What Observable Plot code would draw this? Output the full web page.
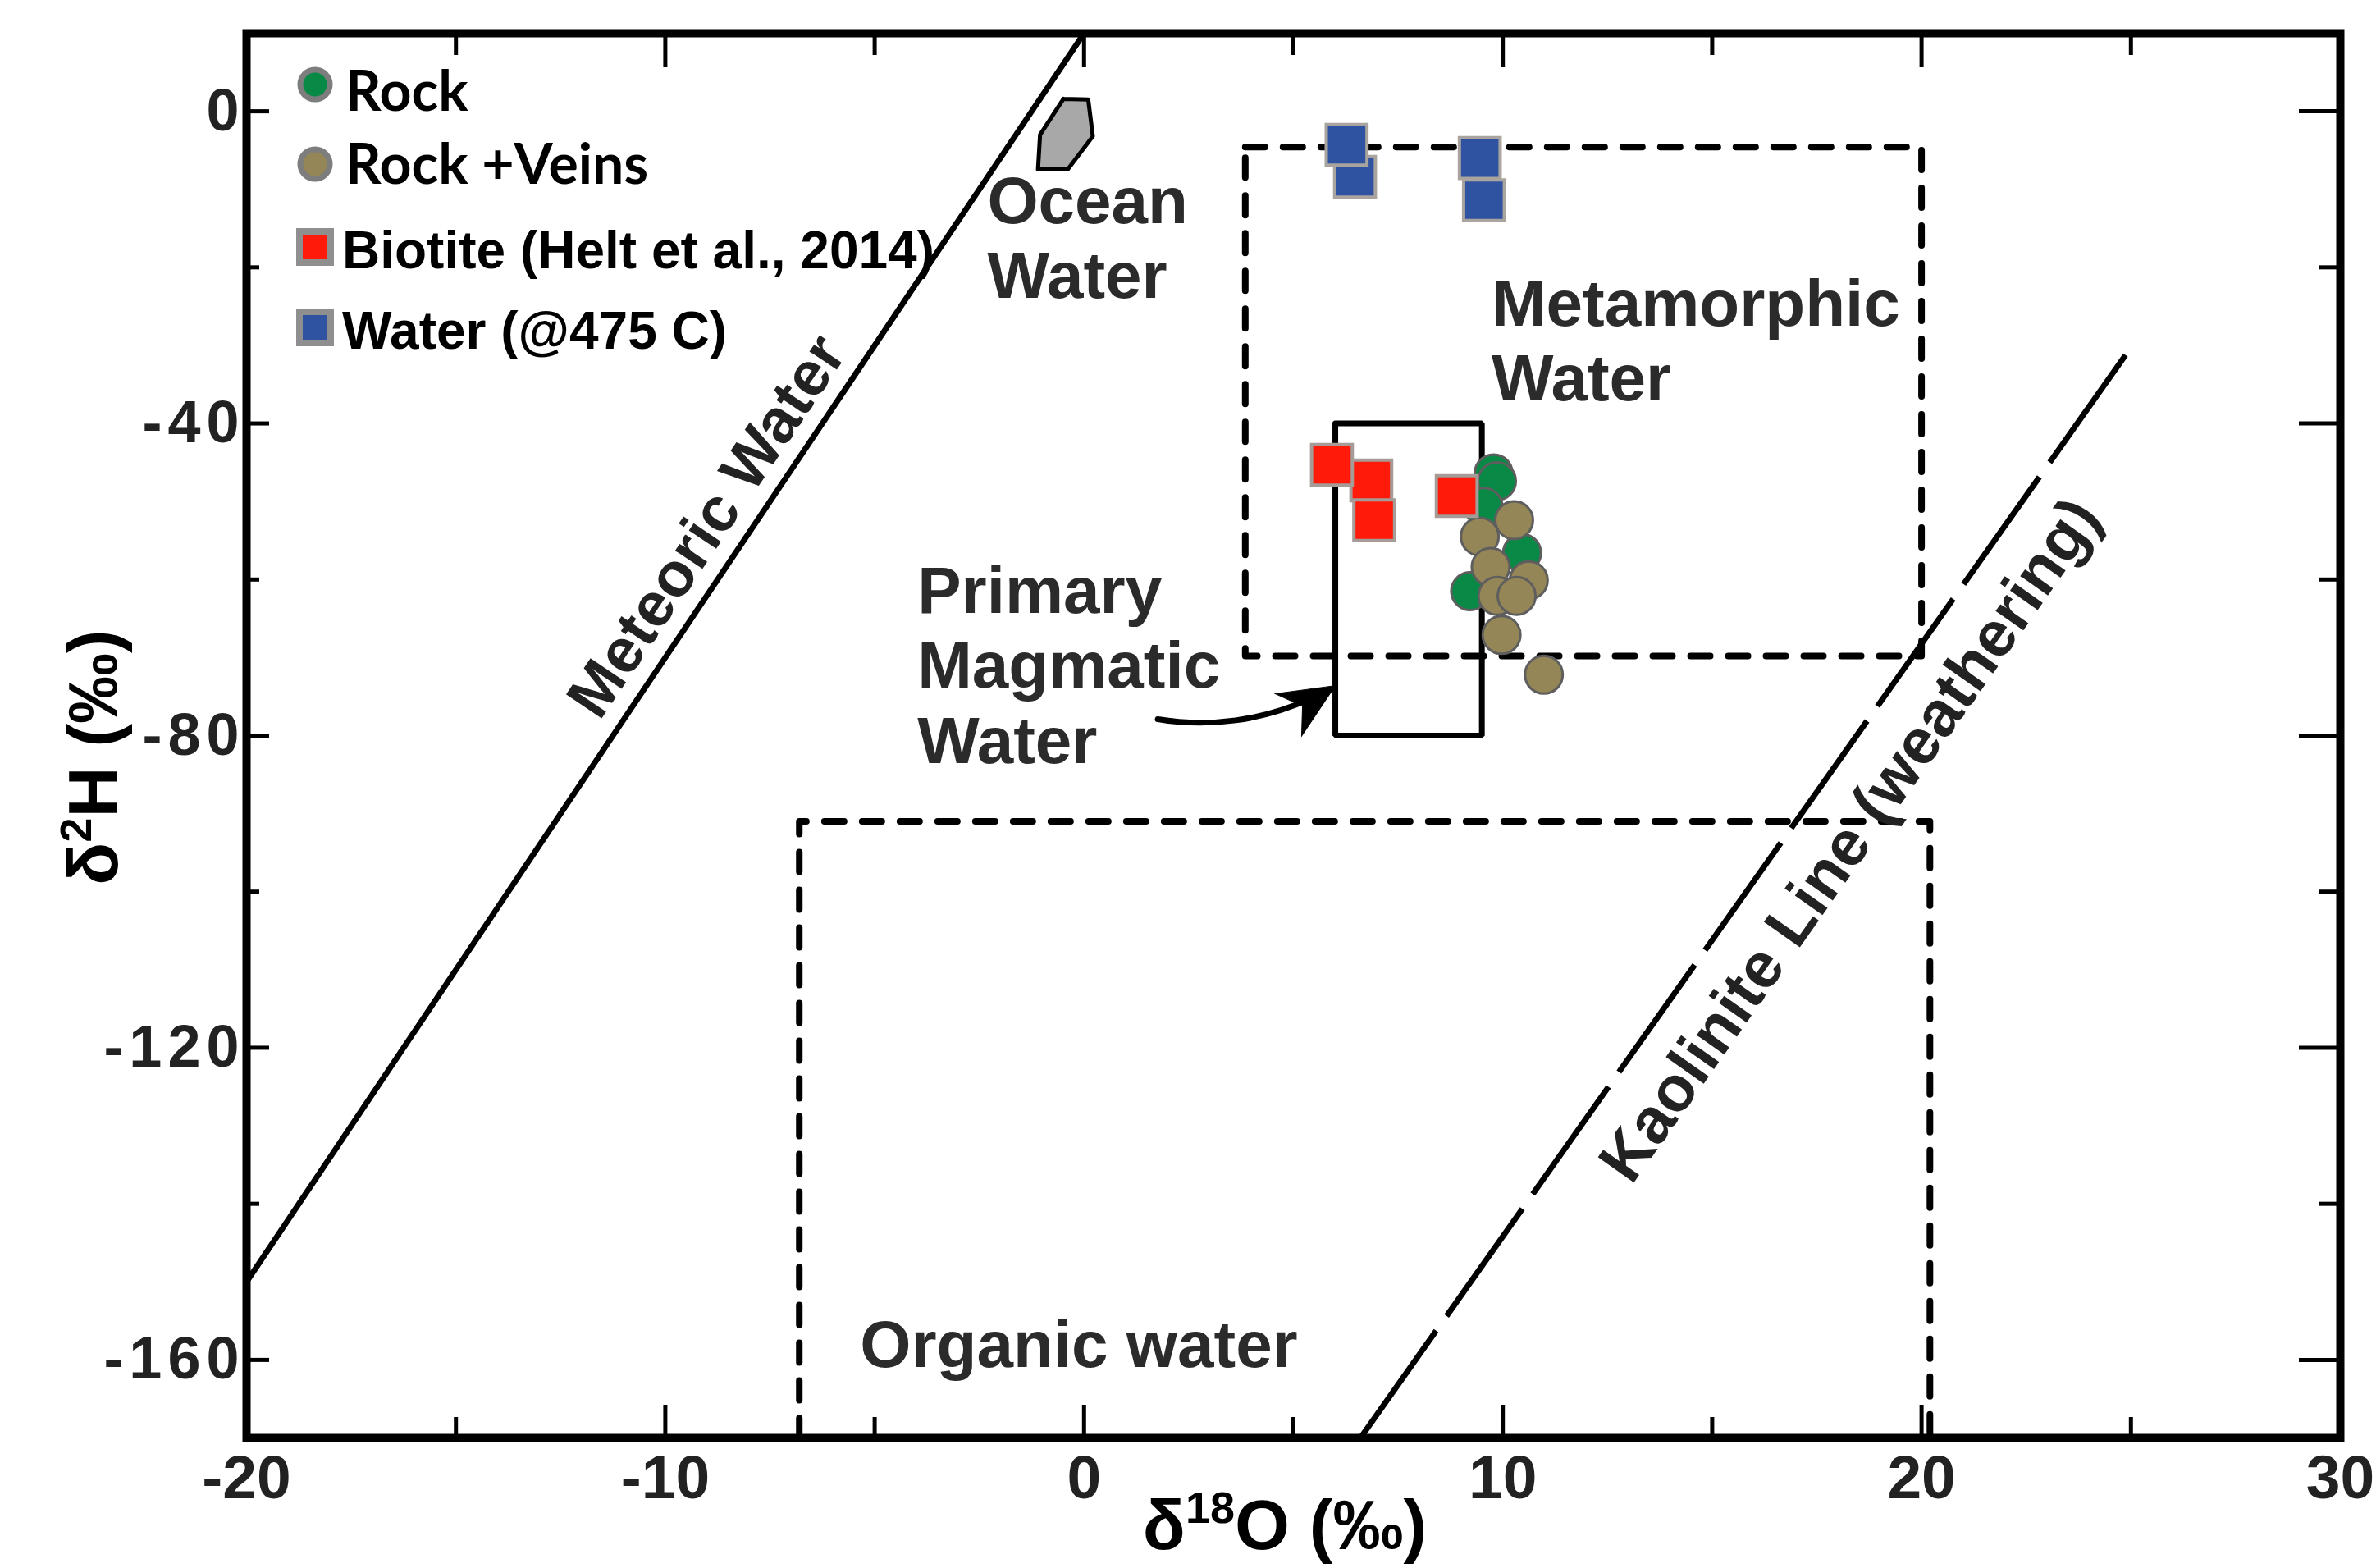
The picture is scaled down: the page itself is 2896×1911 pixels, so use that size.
<!DOCTYPE html>
<html>
<head>
<meta charset="utf-8">
<script src="https://cdn.jsdelivr.net/npm/d3@7"></script>
<script src="https://cdn.jsdelivr.net/npm/@observablehq/plot@0.6"></script>
<style>
  html, body { margin: 0; padding: 0; background: #fff; }
  #wrap { position: relative; width: 2896px; height: 1911px; }
  #legend { position: absolute; left: 0; top: 0; pointer-events: none; }
</style>
</head>
<body>
<div id="wrap"></div>
<script>
// ---------- data ----------
// Rock (green circles)
const rockX = [9.78, 9.86, 9.54, 10.46, 9.22];
const rockY = [-46.4, -47.4, -50.7, -56.6, -61.5];
// Rock + Veins (tan circles)
const veinsX = [10.27, 9.45, 9.71, 10.62, 9.87, 10.33, 9.97, 10.98];
const veinsY = [-52.4, -54.5, -58.4, -60.1, -62.1, -62.1, -67.1, -72.2];
// Biotite (Helt et al., 2014) (red squares)
const biotiteX = [6.86, 6.93, 5.92, 8.90];
const biotiteY = [-47.3, -52.4, -45.3, -49.3];
// Water (@475 C) (blue squares)
const waterX = [6.47, 6.27, 9.55, 9.45];
const waterY = [-8.4, -4.3, -11.4, -6.0];

// reference fields / lines
const meteoricX = [-20, 0];
const meteoricY = [-150, 10];
const kaoliniteX = [6.6, 25.1];
const kaoliniteY = [-170, -29.5];
const metaBoxX = [3.85, 20, 20, 3.85, 3.85];
const metaBoxY = [-4.6, -4.6, -69.8, -69.8, -4.6];
const organicBoxX = [-6.8, -6.8, 20.2, 20.2];
const organicBoxY = [-170, -91, -91, -170];
const magmaBoxX = [6, 9.5, 9.5, 6, 6];
const magmaBoxY = [-40, -40, -80, -80, -40];
const oceanX = [-0.49, 0.10, 0.21, -0.39, -1.10, -1.05, -0.49];
const oceanY = [1.6, 1.5, -3.2, -7.45, -7.45, -3.0, 1.6];
const arrowFrom = [1.76, -77.9];
const arrowTo = [6.0, -73.6];

// annotation labels
const fieldLabels = ["Ocean\nWater", "Metamorphic\nWater", "Primary\nMagmatic\nWater", "Organic water"];
const fieldLabelX = [-2.31, 9.73, -3.98, -5.35];
const fieldLabelY = [-7.5, -20.7, -57.5, -154.1];
const lineLabels = ["Meteoric Water", "Kaolinite Line (weathering)"];
const lineLabelX = [-9.0, 18.3];
const lineLabelY = [-53.2, -93.4];
const lineLabelAngle = [-56, -54.8];

// axes ticks
const xTickLabels = [-20, -10, 0, 10, 20, 30];
const yTickLabels = [0, -40, -80, -120, -160];
const xLongTicks = [-10, 0, 10, 20];
const xShortTicks = [-15, -5, 5, 15, 25];
const yLongTicks = [0, -40, -80, -120, -160];
const yShortTicks = [-20, -60, -100, -140];

// legend
const legendLabels = ["Rock", "Rock +Veins", "Biotite (Helt et al., 2014)", "Water (@475 C)"];

// ---------- build ----------
const zip = (xs, ys) => xs.map((x, i) => ({x, y: ys[i]}));
const rock = zip(rockX, rockY);
const veins = zip(veinsX, veinsY);
const biotite = zip(biotiteX, biotiteY);
const water = zip(waterX, waterY);
const meteoric = zip(meteoricX, meteoricY);
const kaolinite = zip(kaoliniteX, kaoliniteY);
const metaBox = zip(metaBoxX, metaBoxY);
const organicBox = zip(organicBoxX, organicBoxY);
const magmaBox = zip(magmaBoxX, magmaBoxY);
const ocean = zip(oceanX, oceanY);
const fields = fieldLabels.map((t, i) => ({t, x: fieldLabelX[i], y: fieldLabelY[i]}));
const lineLbl = lineLabels.map((t, i) => ({t, x: lineLabelX[i], y: lineLabelY[i], a: lineLabelAngle[i]}));

const W = 2896, H = 1911;
const mL = 300, mR = 44, mT = 40, mB = 159;
const plotW = W - mL - mR, plotH = H - mT - mB;

const C = {green: "#088a46", tan: "#958657", red: "#ff1a0a", blue: "#2f53a0"};
const font = "'Liberation Sans', Arial, Helvetica, sans-serif";

// barbed arrowhead symbol: tip at the origin, pointing up
const arrowHead = {
  draw(ctx, size) {
    const L = Math.sqrt(size);
    ctx.moveTo(0, 0);
    ctx.lineTo(L * 0.45, L);
    ctx.lineTo(0, L * 0.7);
    ctx.lineTo(-L * 0.45, L);
    ctx.closePath();
  }
};

const chart = Plot.plot({
  width: W, height: H,
  marginLeft: mL, marginRight: mR, marginTop: mT, marginBottom: mB,
  style: {background: "white", fontFamily: font},
  x: {domain: [-20, 30]},
  y: {domain: [-170, 10]},
  marks: [
    Plot.line(organicBox, {x: "x", y: "y", stroke: "black", strokeWidth: 8, strokeDasharray: "24,22", clip: "frame"}),
    Plot.line(metaBox, {x: "x", y: "y", stroke: "black", strokeWidth: 8, strokeDasharray: "24,22"}),
    Plot.line(magmaBox, {x: "x", y: "y", stroke: "black", strokeWidth: 7, strokeLinejoin: "miter"}),
    Plot.line(meteoric, {x: "x", y: "y", stroke: "black", strokeWidth: 7, clip: "frame"}),
    Plot.line(kaolinite, {x: "x", y: "y", stroke: "black", strokeWidth: 7, strokeDasharray: "160,22", strokeLinecap: "butt", clip: "frame"}),
    Plot.line(ocean, {x: "x", y: "y", stroke: "black", strokeWidth: 5, fill: "#a8a8a8", strokeLinejoin: "round"}),
    Plot.arrow([{}], {x1: () => arrowFrom[0], y1: () => arrowFrom[1], x2: () => arrowTo[0], y2: () => arrowTo[1],
      bend: -20, stroke: "black", strokeWidth: 7, headLength: 0, insetEnd: 34}),
    Plot.dot([{}], {x: () => arrowTo[0], y: () => arrowTo[1], symbol: arrowHead, r: 38, rotate: 58,
      fill: "black", stroke: "black", strokeWidth: 1}),
    Plot.text(fields, {x: "x", y: "y", text: "t", textAnchor: "start", lineAnchor: "top",
      fontSize: 80, fontWeight: "bold", fill: "#2b2b2b", lineHeight: 1.14}),
    Plot.text(lineLbl, {x: "x", y: "y", text: "t", rotate: "a", textAnchor: "middle", lineAnchor: "middle",
      fontSize: (d, i) => i === 0 ? 76 : 78, fontWeight: "bold", fill: "#222"}),
    Plot.dot(rock, {x: "x", y: "y", r: 23, fill: C.green, stroke: "#5e5e5e", strokeWidth: 3}),
    Plot.dot(veins, {x: "x", y: "y", r: 23, fill: C.tan, stroke: "#5e5e5e", strokeWidth: 3}),
    Plot.dot(biotite, {x: "x", y: "y", r: 28, symbol: "square", fill: C.red, stroke: "#a59c98", strokeWidth: 4}),
    Plot.dot(water, {x: "x", y: "y", r: 28, symbol: "square", fill: C.blue, stroke: "#aaa49e", strokeWidth: 4}),
    Plot.frame({stroke: "black", strokeWidth: 10}),
    // inward ticks
    Plot.tickX(xLongTicks, {x: d => d, stroke: "black", strokeWidth: 5, insetTop: plotH - 40}),
    Plot.tickX(xShortTicks, {x: d => d, stroke: "black", strokeWidth: 5, insetTop: plotH - 25}),
    Plot.tickX(xLongTicks, {x: d => d, stroke: "black", strokeWidth: 5, insetBottom: plotH - 42}),
    Plot.tickX(xShortTicks, {x: d => d, stroke: "black", strokeWidth: 5, insetBottom: plotH - 27}),
    Plot.tickY(yLongTicks, {y: d => d, stroke: "black", strokeWidth: 5, insetRight: plotW - 28}),
    Plot.tickY(yShortTicks, {y: d => d, stroke: "black", strokeWidth: 5, insetRight: plotW - 16}),
    Plot.tickY(yLongTicks, {y: d => d, stroke: "black", strokeWidth: 5, insetLeft: plotW - 50}),
    Plot.tickY(yShortTicks, {y: d => d, stroke: "black", strokeWidth: 5, insetLeft: plotW - 26}),
    Plot.axisX({ticks: xTickLabels, tickSize: 0, tickPadding: 20, fontSize: 75, fontWeight: "bold",
      fill: "#222", label: null, tickFormat: d => String(d)}),
    Plot.axisY({ticks: yTickLabels, tickSize: 0, tickPadding: 2, fontSize: 72, fontWeight: "bold",
      fill: "#222", label: null, tickFormat: d => String(d)})
  ]
});

document.getElementById("wrap").appendChild(chart);

const svg = d3.select(chart);
// wide-set y tick labels as in the reference
svg.selectAll('g[aria-label="y-axis tick label"] text').style("letter-spacing", "7px");

// axis titles (with superscripts)
const xt = svg.append("text")
  .attr("x", 1566).attr("y", 1888).attr("text-anchor", "middle")
  .attr("font-family", font).attr("font-weight", "bold").attr("font-size", 86).attr("fill", "#000");
xt.append("tspan").text("δ");
xt.append("tspan").attr("font-size", 54).attr("dy", -32).text("18");
xt.append("tspan").attr("dy", 32).text("O (‰)");

const yt = svg.append("text")
  .attr("transform", "translate(143,923) rotate(-90)").attr("text-anchor", "middle")
  .attr("font-family", font).attr("font-weight", "bold").attr("font-size", 86).attr("fill", "#000");
yt.append("tspan").text("δ");
yt.append("tspan").attr("font-size", 54).attr("dy", -32).text("2");
yt.append("tspan").attr("dy", 32).text("H (‰)");

// legend overlay (separate element placed over the plot's top-left corner)
const lg = d3.select("#wrap").append("svg").attr("id", "legend").attr("width", 1300).attr("height", 460);
const rows = [
  {kind: "circle", fill: C.green, cy: 103, base: 135, tx: 421, f: "Lato, 'Open Sans', sans-serif", fs: 68},
  {kind: "circle", fill: C.tan, cy: 200, base: 224, tx: 421, f: "Lato, 'Open Sans', sans-serif", fs: 68},
  {kind: "square", fill: C.red, cy: 301, base: 327, tx: 417, f: font, fs: 64},
  {kind: "square", fill: C.blue, cy: 399, base: 425, tx: 417, f: font, fs: 64}
];
rows.forEach((r, i) => {
  if (r.kind === "circle") {
    lg.append("circle").attr("cx", 384).attr("cy", r.cy).attr("r", 18)
      .attr("fill", r.fill).attr("stroke", "#7d7d7d").attr("stroke-width", 7);
  } else {
    lg.append("rect").attr("x", 365).attr("y", r.cy - 19).attr("width", 38).attr("height", 38)
      .attr("fill", r.fill).attr("stroke", "#8f8f8f").attr("stroke-width", 8);
  }
  lg.append("text").attr("x", r.tx).attr("y", r.base)
    .attr("font-family", r.f).attr("font-weight", "bold").attr("font-size", r.fs).attr("fill", "#000")
    .text(legendLabels[i]);
});
</script>
</body>
</html>
